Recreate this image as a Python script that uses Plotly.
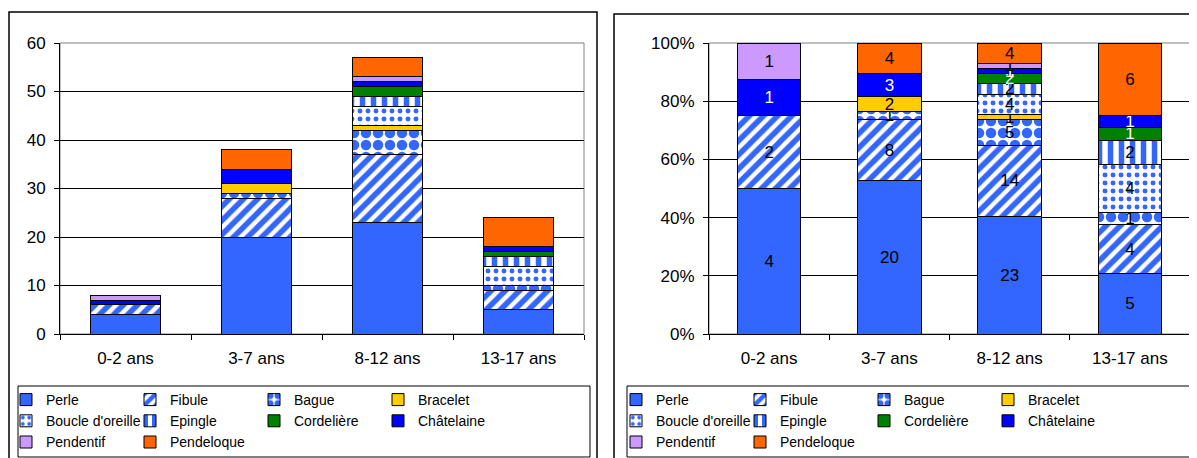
import plotly.graph_objects as go

categories = ["0-2 ans", "3-7 ans", "8-12 ans", "13-17 ans"]
series_names = ["Perle", "Fibule", "Bague", "Bracelet", "Boucle d'oreille",
                "Epingle", "Cordelière", "Châtelaine", "Pendentif", "Pendeloque"]
perle = [4, 20, 23, 5]
fibule = [2, 8, 14, 4]
bague = [0, 1, 5, 1]
bracelet = [0, 2, 1, 0]
boucle = [0, 0, 4, 4]
epingle = [0, 0, 2, 2]
cordeliere = [0, 0, 2, 1]
chatelaine = [1, 3, 1, 1]
pendentif = [1, 0, 1, 0]
pendeloque = [0, 4, 4, 6]
values = [perle, fibule, bague, bracelet, boucle, epingle, cordeliere,
          chatelaine, pendentif, pendeloque]
left_ticks = [0, 10, 20, 30, 40, 50, 60]
right_ticks = [0, 20, 40, 60, 80, 100]

BLUE = "#3366FF"
styles = [
    dict(color=BLUE),
    dict(color="white", pattern=dict(shape="/", fgcolor=BLUE, bgcolor="white", fgopacity=1, size=10, solidity=0.55)),
    dict(color="white", pattern=dict(shape=".", fgcolor=BLUE, bgcolor="white", fgopacity=1, size=12, solidity=0.6)),
    dict(color="#FFCC00"),
    dict(color="white", pattern=dict(shape=".", fgcolor=BLUE, bgcolor="white", fgopacity=1, size=8, solidity=0.3)),
    dict(color="white", pattern=dict(shape="|", fgcolor=BLUE, bgcolor="white", fgopacity=1, size=11, solidity=0.5)),
    dict(color="#008000"),
    dict(color="#0000FF"),
    dict(color="#CC99FF"),
    dict(color="#FF6600"),
]
text_colors = ["black"] * 6 + ["white", "white", "black", "black"]
group_of = [1, 2, 3, 4, 1, 2, 3, 4, 1, 2]

FONT = "Arial, Liberation Sans, sans-serif"
OFF = 8  # page body margin
W, H = 1189, 450

totals = [sum(v[i] for v in values) for i in range(len(categories))]

fig = go.Figure()
for k, name in enumerate(series_names):
    vals = [v if v else None for v in values[k]]
    marker = dict(styles[k])
    marker["line"] = dict(color="black", width=1)
    fig.add_trace(go.Bar(
        x=categories, y=vals, name=name, marker=marker,
        xaxis="x", yaxis="y", legend="legend", legendgroup="L%d" % group_of[k],
        hoverinfo="skip"))
for k, name in enumerate(series_names):
    pct = [(v / t * 100) if v else None for v, t in zip(values[k], totals)]
    txt = [str(v) if v else "" for v in values[k]]
    marker = dict(styles[k])
    marker["line"] = dict(color="black", width=1)
    fig.add_trace(go.Bar(
        x=categories, y=pct, name=name, marker=marker,
        text=txt, textposition="inside", insidetextanchor="middle",
        constraintext="none", textangle=0,
        textfont=dict(color=text_colors[k], size=17, family=FONT),
        xaxis="x2", yaxis="y2", legend="legend2", legendgroup="R%d" % group_of[k],
        hoverinfo="skip"))

def px(x):
    return (x - OFF) / W

def py(y):
    return 1 - (y - OFF) / H

ydom = [py(334), py(43)]
axis_common = dict(showline=True, linecolor="black", linewidth=1,
                   tickfont=dict(size=17, family=FONT, color="black"),
                   ticks="outside", ticklen=5, tickcolor="black")

legend_common = dict(orientation="h", traceorder="grouped", xanchor="left",
                     yanchor="bottom", y=0, bgcolor="rgba(0,0,0,0)",
                     borderwidth=0, entrywidth=79, tracegroupgap=0,
                     font=dict(size=14, family=FONT, color="black"))

fig.update_layout(
    width=W, height=H, margin=dict(l=0, r=0, t=0, b=0, autoexpand=False),
    paper_bgcolor="white", plot_bgcolor="white",
    barmode="stack", bargap=0.47,
    font=dict(family=FONT, size=15, color="black"),
    xaxis=dict(domain=[px(60), px(584)], type="category", tickson="boundaries",
               anchor="y", ticklabelstandoff=9, **axis_common),
    yaxis=dict(domain=ydom, range=[0, 60], tickvals=left_ticks, anchor="x",
               showgrid=True, gridcolor="black", gridwidth=1, zeroline=False,
               ticklabelstandoff=5, **axis_common),
    xaxis2=dict(domain=[px(709), px(1190)], type="category", tickson="boundaries",
                anchor="y2", ticklabelstandoff=9, **axis_common),
    yaxis2=dict(domain=ydom, range=[0, 100], tickvals=right_ticks,
                ticktext=["%d%%" % t for t in right_ticks],
                anchor="x2", showgrid=True, gridcolor="black", gridwidth=1,
                zeroline=False, ticklabelstandoff=5, **axis_common),
    legend=dict(x=px(6), **legend_common),
    legend2=dict(x=px(616), **legend_common),
    showlegend=True,
)

shapes = [
    # outer panels
    dict(type="rect", xref="paper", yref="paper", x0=px(9), x1=px(597), y0=py(470), y1=py(12),
         line=dict(color="black", width=1.5)),
    dict(type="rect", xref="paper", yref="paper", x0=px(614), x1=px(1205), y0=py(470), y1=py(14),
         line=dict(color="black", width=1.5)),
    # legend boxes
    dict(type="rect", xref="paper", yref="paper", x0=px(18), x1=px(590), y0=py(457), y1=py(386),
         line=dict(color="black", width=1)),
    dict(type="rect", xref="paper", yref="paper", x0=px(627), x1=px(1191), y0=py(457), y1=py(386),
         line=dict(color="black", width=1)),
    # plot area borders (gray)
    dict(type="rect", xref="x domain", yref="y domain", x0=0, x1=1, y0=0, y1=1,
         line=dict(color="#808080", width=1), layer="below"),
    dict(type="rect", xref="x2 domain", yref="y2 domain", x0=0, x1=1, y0=0, y1=1,
         line=dict(color="#808080", width=1), layer="below"),
]
fig.update_layout(shapes=shapes)

fig.write_html("out.html")
